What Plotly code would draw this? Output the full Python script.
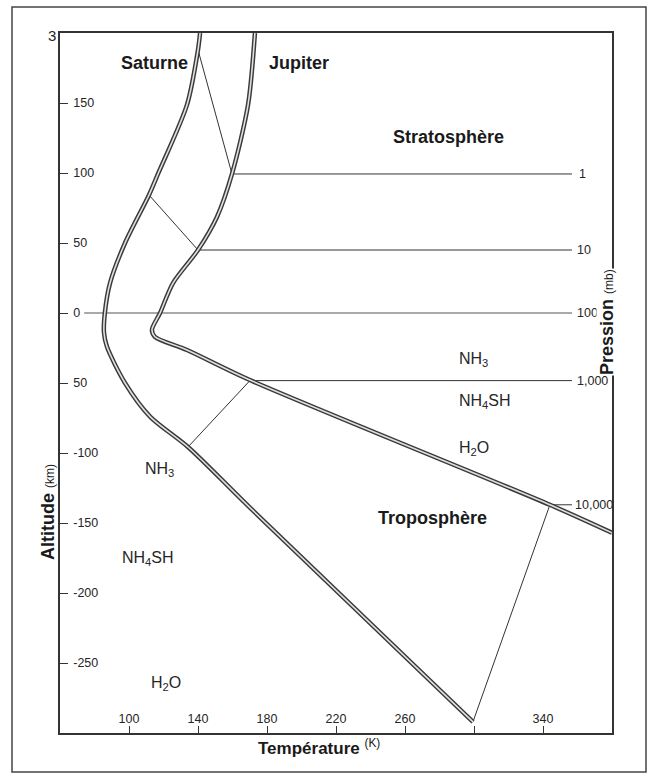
import plotly.graph_objects as go

# ---- data (temperature K, altitude km) ----
saturn_T = [141.2, 140.0, 133.6, 116.8, 111.6, 97.7, 89.0, 86.0, 85.5, 87.2, 97.7, 112.2, 134.2, 170.1, 299.4]
saturn_z = [200, 188, 148.6, 99.3, 84.3, 50, 21.4, 0, -14, -24, -50, -74, -95.7, -139, -292]

jupiter_T = [173, 169, 159.7, 151, 140, 125.5, 118, 113.3, 115, 133.6, 170.1, 344, 380]
jupiter_z = [200, 148.6, 99.3, 68.6, 45, 21.4, 0, -12, -17, -26.4, -47.9, -137, -157]

# isobars: pressure label, Saturn point, Jupiter point
iso_labels = ["1", "10", "100", "1,000", "10,000"]
iso_sat_T = [140.0, 111.6, 74.0, 134.2, 299.4]
iso_sat_z = [188, 84.3, 0, -95.7, -292]
iso_jup_T = [159.7, 140.0, 118.0, 170.1, 344.0]
iso_jup_z = [99.3, 45, 0, -48.3, -137]
iso_end_T = 356.8
iso_label_T = [359.7, 358.6, 358.6, 358.6, 357.5]

x_ticks = [100, 140, 180, 220, 260, 300, 340]
x_ticktext = ["100", "140", "180", "220", "260", "", "340"]
y_ticks = [150, 100, 50, 0, -50, -100, -150, -200, -250]
y_ticktext = ["150", "100", "50", "0", "50", "-100", "-150", "-200", "-250"]

gas_labels = ["NH<sub>3</sub>", "NH<sub>4</sub>SH", "H<sub>2</sub>O"]
right_gas_T = [290.1, 290.1, 290.1]
right_gas_z = [-32.9, -62.9, -96.5]
left_gas_T = [108.1, 94.8, 111.6]
left_gas_z = [-112, -175, -264.3]

FONT = "Liberation Sans"
INK = "#262626"

fig = go.Figure()

# thin isobar lines
for i in range(len(iso_labels)):
    if iso_labels[i] == "100":
        fig.add_trace(go.Scatter(x=[iso_sat_T[i], iso_end_T], y=[iso_sat_z[i], iso_jup_z[i]],
                                 mode="lines", line=dict(color="#555", width=1.1),
                                 hoverinfo="skip", showlegend=False))
    else:
        fig.add_trace(go.Scatter(x=[iso_sat_T[i], iso_jup_T[i], iso_end_T],
                                 y=[iso_sat_z[i], iso_jup_z[i], iso_jup_z[i]],
                                 mode="lines", line=dict(color="#333", width=1),
                                 hoverinfo="skip", showlegend=False))

# double-line curves
for T, z in [(saturn_T, saturn_z), (jupiter_T, jupiter_z)]:
    fig.add_trace(go.Scatter(x=T, y=z, mode="lines", line=dict(color="#3a3a3a", width=4.5, shape="spline", smoothing=0.8),
                             hoverinfo="skip", showlegend=False))
    fig.add_trace(go.Scatter(x=T, y=z, mode="lines", line=dict(color="#e0e0e0", width=1.6, shape="spline", smoothing=0.8),
                             hoverinfo="skip", showlegend=False))

ann = []
for i, lab in enumerate(iso_labels):
    ann.append(dict(x=iso_label_T[i], y=iso_jup_z[i], text=lab, showarrow=False, xanchor="left",
                    yanchor="middle", font=dict(size=12.5, color=INK, family=FONT)))
for i, lab in enumerate(gas_labels):
    ann.append(dict(x=right_gas_T[i], y=right_gas_z[i], text=lab, showarrow=False, xanchor="left",
                    yanchor="middle", font=dict(size=16, color=INK, family=FONT)))
    ann.append(dict(x=left_gas_T[i], y=left_gas_z[i], text=lab, showarrow=False, xanchor="left",
                    yanchor="middle", font=dict(size=16, color=INK, family=FONT)))

bold = dict(size=18, color="#1a1a1a", family=FONT)
ann += [
    dict(x=114.5, y=178.6, text="<b>Saturne</b>", showarrow=False, font=bold),
    dict(x=198.6, y=178.6, text="<b>Jupiter</b>", showarrow=False, font=bold),
    dict(x=285.5, y=125.7, text="<b>Stratosphère</b>", showarrow=False, font=bold),
    dict(x=275.7, y=-146.4, text="<b>Troposphère</b>", showarrow=False, font=bold),
    dict(xref="paper", yref="paper", x=(319 - 60) / 552, y=(733 - 747) / 700, xanchor="center", yanchor="middle",
         text="<b>Température</b> <sup>(K)</sup>", showarrow=False, font=dict(size=17, color="#1a1a1a", family=FONT)),
    dict(xref="paper", yref="paper", x=(48 - 60) / 552, y=(733 - 512) / 700, textangle=-90,
         xanchor="center", yanchor="middle",
         text="<b>Altitude</b> <span style='font-size:12px'>(km)</span>", showarrow=False,
         font=dict(size=18, color="#1a1a1a", family=FONT)),
    dict(xref="paper", yref="paper", x=(607 - 60) / 552, y=(733 - 322) / 700, textangle=-90,
         xanchor="center", yanchor="middle", borderpad=0,
         text="<b>Pression</b> <span style='font-size:12px'>(mb)</span>", showarrow=False, bgcolor="white",
         font=dict(size=18, color="#1a1a1a", family=FONT)),
    dict(xref="paper", yref="paper", x=0, y=1, xanchor="right", yanchor="middle", xshift=-2, yshift=-2,
         text="3", showarrow=False, font=dict(size=15, color=INK, family=FONT)),
]

fig.update_layout(
    width=649, height=780,
    margin=dict(l=60, r=37, t=33, b=47),
    paper_bgcolor="white", plot_bgcolor="white",
    font=dict(family=FONT, color=INK),
    annotations=ann,
    shapes=[dict(type="rect", xref="paper", yref="paper",
                 x0=(12 - 60) / 552, x1=(646 - 60) / 552, y0=(733 - 772) / 700, y1=(733 - 7) / 700,
                 line=dict(color="#444", width=1.5), layer="below")],
)
fig.update_xaxes(range=[60, 380], showgrid=False, zeroline=False, showline=True, linecolor="#333", linewidth=1.5,
                 mirror=True, ticks="inside", ticklen=7, tickcolor="#333", tickvals=x_ticks, ticktext=x_ticktext,
                 ticklabelposition="inside", tickfont=dict(size=12.5, color=INK, family=FONT))
fig.update_yaxes(range=[-300, 200], showgrid=False, zeroline=False, showline=True, linecolor="#333", linewidth=1.5,
                 mirror=True, ticks="inside", ticklen=8, tickcolor="#333", tickvals=y_ticks, ticktext=y_ticktext,
                 ticklabelposition="inside", ticklabelstandoff=5, tickfont=dict(size=12.5, color=INK, family=FONT))

fig.write_html("out.html", config={"displayModeBar": False},
               post_script="document.body.style.margin='0';document.body.style.overflow='hidden';")
